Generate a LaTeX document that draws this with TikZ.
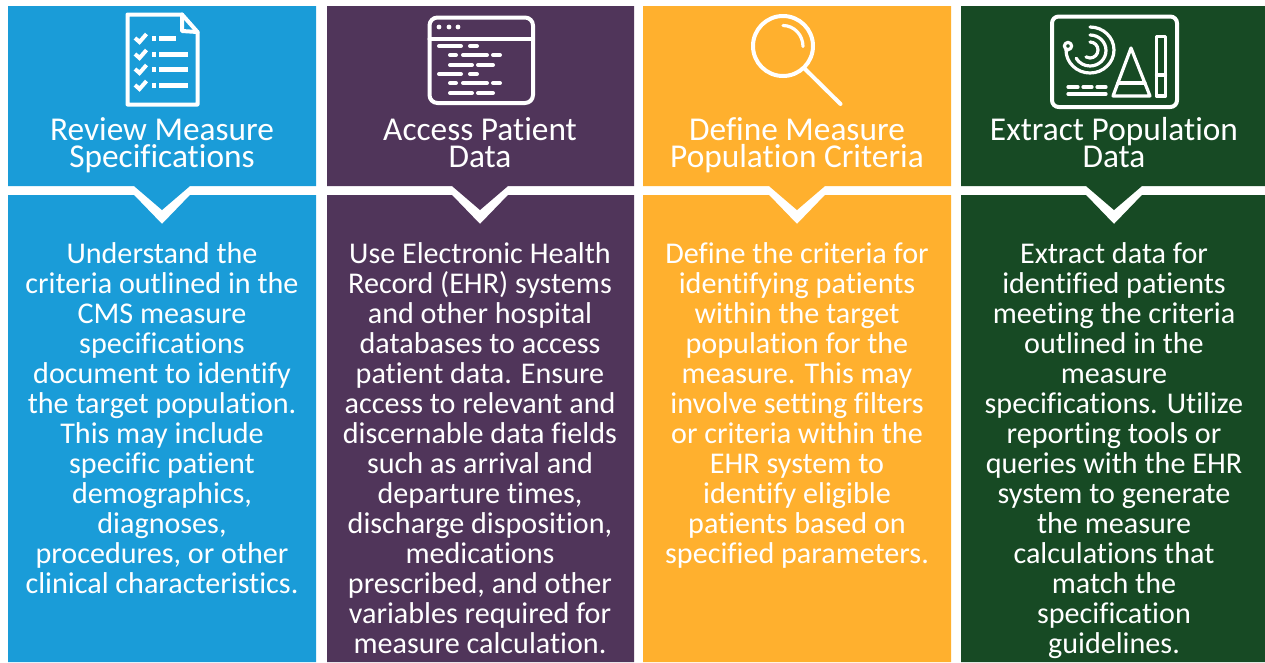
\documentclass[tikz,border=0pt]{standalone}
\usepackage{fontspec}
\setmainfont[Ligatures=CommonOff]{Carlito}
\definecolor{cblue}{HTML}{1A9CD8}
\definecolor{cpurple}{HTML}{50355A}
\definecolor{corange}{HTML}{FFB02E}
\definecolor{cgreen}{HTML}{174A24}
\newcommand{\linephantom}{\vphantom{Apf}}
\AtBeginDocument{\setlength{\lineskiplimit}{-100pt}}
\tikzset{
  titletext/.style={text=white,align=center,anchor=center,inner sep=0pt,font=\fontsize{25}{20.3}\selectfont},
  bodytext/.style={text=white,align=center,anchor=north,inner sep=0pt,font=\fontsize{22.6}{22.5}\selectfont},
  icon/.style={draw=white,line width=3pt,line join=round,line cap=round,fill=none},
  iconthin/.style={draw=white,line width=2.4pt,line join=round,line cap=round,fill=none},
  iconbar/.style={draw=white,line width=3pt,line cap=round},
}
% #1 colour, #2 left, #3 right, #4 centre
\newcommand{\panelpair}[4]{%
  \fill[#1] (#2,6) -- (#3,6) -- (#3,186) -- (#4+28,186) -- (#4,210) -- (#4-28,186) -- (#2,186) -- cycle;
  \fill[#1] (#2,195) -- (#4-28,195) -- (#4,224) -- (#4+28,195) -- (#3,195) -- (#3,662) -- (#2,662) -- cycle;
}
\newcommand{\codeblock}[1]{%
  \draw[iconbar] (438+1,#1) -- (461,#1) (470,#1) -- (477,#1);
  \draw[iconbar] (450,#1+9) -- (456,#1+9) (463,#1+9) -- (487,#1+9) (493,#1+9) -- (500,#1+9);
  \draw[iconbar] (450,#1+19) -- (472,#1+19) (478,#1+19) -- (493,#1+19);
}
\newcommand{\chkline}[2]{%
  \draw[white,line width=3pt,line join=miter] (135,#1) -- (139.5,#1+4) -- (146.5,#1-4);
  \fill[white] (152,#1-2.5) rectangle (156,#1+2.5);
  \fill[white] (159,#1-2.5) rectangle (#2,#1+2.5);
}
\begin{document}
\begin{tikzpicture}[x=0.75pt,y=-0.75pt]
\useasboundingbox (0,0) rectangle (1265,662);
\fill[white] (0,0) rectangle (1265,662);
\panelpair{cblue}{8}{316}{162}
\panelpair{cpurple}{327}{634}{480}
\panelpair{corange}{643}{951}{797}
\panelpair{cgreen}{961}{1265}{1114}
% document icon
\draw[icon] (127.5,14.5) -- (182,14.5) -- (197.5,32) -- (197.5,104.5) -- (127.5,104.5) -- cycle;
\draw[icon] (182,14.5) -- (182,31) -- (197.5,32);
\chkline{38}{176}
\chkline{54}{188}
\chkline{69}{188}
\chkline{85}{188}
% window icon
\draw[icon,rounded corners=6pt] (429.5,17.5) rectangle (533,103);
\draw[icon] (429.5,39) -- (533,39);
\fill[white] (439,27) circle (2.4) (449,27) circle (2.4) (458,27) circle (2.4);
\codeblock{46}
\codeblock{74}
% magnifier
\draw[icon] (783,46) circle (30);
\draw[icon] (804,68) -- (840.5,104);
\draw[iconthin] (783,25.5) arc (-90:0:20 and 21);
% radar icon
\draw[icon,rounded corners=5pt] (1052,16.5) rectangle (1177,107);
\draw[iconthin] (1068,46) circle (3.6);
\draw[iconthin] (1090,27) arc (-90:180:24 and 23) -- (1068,50);
\draw[iconthin] (1090,35) arc (-90:150:16 and 15.5);
\draw[iconthin] (1090,42) arc (-90:120:8);
\draw[iconthin] (1131,48) -- (1113,96) -- (1150,96) -- cycle;
\draw[iconthin] (1118,83) -- (1145,83);
\draw[iconthin] (1156.5,36.5) rectangle (1165.5,96);
\draw[iconthin] (1156.5,75) -- (1165.5,75);
\draw[iconthin] (1068,87) -- (1078,87) (1083,87) -- (1092,87) (1097,87) -- (1106,87);
\draw[iconthin] (1068,94) -- (1106,94);
% titles
\node[titletext] (t1) at (162,145) {\linephantom Review Measure\\\linephantom Specifications};
\node[titletext] (t2) at (480,145) {\linephantom Access Patient\\\linephantom Data};
\node[titletext] (t3) at (797,145) {\linephantom Define Measure\\\linephantom Population Criteria};
\node[titletext] (t4) at (1114,145) {\linephantom Extract Population\\\linephantom Data};
% bodies
\node[bodytext] (b1) at (162,242) {Understand the\\criteria outlined in the\\CMS measure\\specifications\\document to identify\\the target population.\\This may include\\specific patient\\demographics,\\diagnoses,\\procedures, or other\\clinical characteristics.};
\node[bodytext] (b2) at (480,242) {Use Electronic Health\\Record (EHR) systems\\and other hospital\\databases to access\\patient data. Ensure\\access to relevant and\\discernable data fields\\such as arrival and\\departure times,\\discharge disposition,\\medications\\prescribed, and other\\variables required for\\measure calculation.};
\node[bodytext] (b3) at (797,242) {Define the criteria for\\identifying patients\\within the target\\population for the\\measure. This may\\involve setting filters\\or criteria within the\\EHR system to\\identify eligible\\patients based on\\specified parameters.};
\node[bodytext] (b4) at (1114,242) {Extract data for\\identified patients\\meeting the criteria\\outlined in the\\measure\\specifications. Utilize\\reporting tools or\\queries with the EHR\\system to generate\\the measure\\calculations that\\match the\\specification\\guidelines.};
\end{tikzpicture}
\end{document}
